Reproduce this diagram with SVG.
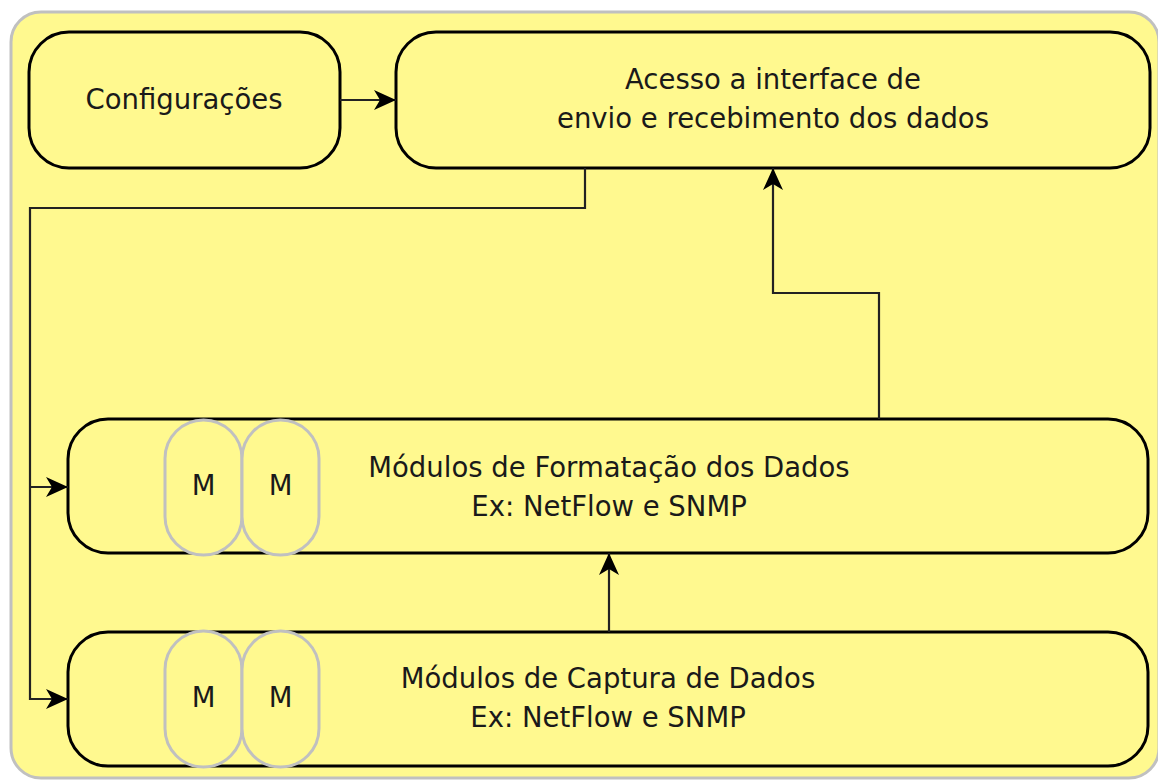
<svg xmlns="http://www.w3.org/2000/svg" width="1158" height="780" viewBox="0 0 1158 780">
<style>
.box{fill:#fff98f;stroke:#000;stroke-width:3}
.pill{fill:#fff98f;stroke:#c0c0c0;stroke-width:3}
.t{font-family:"DejaVu Sans",Verdana,sans-serif;font-size:27.5px;fill:#1a1a1a;text-anchor:middle}
.c{fill:none;stroke:#222;stroke-width:2.2}
</style>
<defs>
<marker id="arr" markerUnits="userSpaceOnUse" markerWidth="24" markerHeight="22" viewBox="0 0 24 22" refX="22" refY="11" orient="auto">
<path d="M0,1 L22,11 L0,21 L6,11 Z" fill="#000"/>
</marker>
</defs>
<rect x="11" y="12" width="1148" height="766" rx="30" fill="#fff98f" stroke="#c0c0c0" stroke-width="3"/>
<g id="configuracoes">
<rect class="box" x="29" y="32" width="311" height="136" rx="40"/>
<text class="t" x="184" y="109">Configurações</text>
</g>
<g id="acesso">
<rect class="box" x="396" y="32" width="754" height="136" rx="40"/>
<text class="t" x="773" y="89">Acesso a interface de</text>
<text class="t" x="773" y="128">envio e recebimento dos dados</text>
</g>
<g id="formatacao">
<rect class="box" x="68" y="419" width="1080" height="134" rx="40"/>
<text class="t" x="609" y="477">Módulos de Formatação dos Dados</text>
<text class="t" x="609" y="516">Ex: NetFlow e SNMP</text>
</g>
<g id="formatacao-m1">
<rect class="pill" x="165" y="420" width="77" height="135" rx="38.5"/>
<text class="t" x="203.5" y="495">M</text>
</g>
<g id="formatacao-m2">
<rect class="pill" x="242" y="420" width="77" height="135" rx="38.5"/>
<text class="t" x="280.5" y="495">M</text>
</g>
<g id="captura">
<rect class="box" x="68" y="632" width="1080" height="134" rx="40"/>
<text class="t" x="608" y="688">Módulos de Captura de Dados</text>
<text class="t" x="608" y="727">Ex: NetFlow e SNMP</text>
</g>
<g id="captura-m1">
<rect class="pill" x="165" y="631" width="77" height="136" rx="38.5"/>
<text class="t" x="203.5" y="707">M</text>
</g>
<g id="captura-m2">
<rect class="pill" x="242" y="631" width="77" height="136" rx="38.5"/>
<text class="t" x="280.5" y="707">M</text>
</g>
<g id="connectors">
<path class="c" d="M340,100 H396" marker-end="url(#arr)"/>
<path class="c" d="M585,168 V208 H30 V699 H68" marker-end="url(#arr)"/>
<path class="c" d="M30,487 H68" marker-end="url(#arr)"/>
<path class="c" d="M879,419 V293 H773 V168" marker-end="url(#arr)"/>
<path class="c" d="M609,632 V553" marker-end="url(#arr)"/>
</g>
</svg>
